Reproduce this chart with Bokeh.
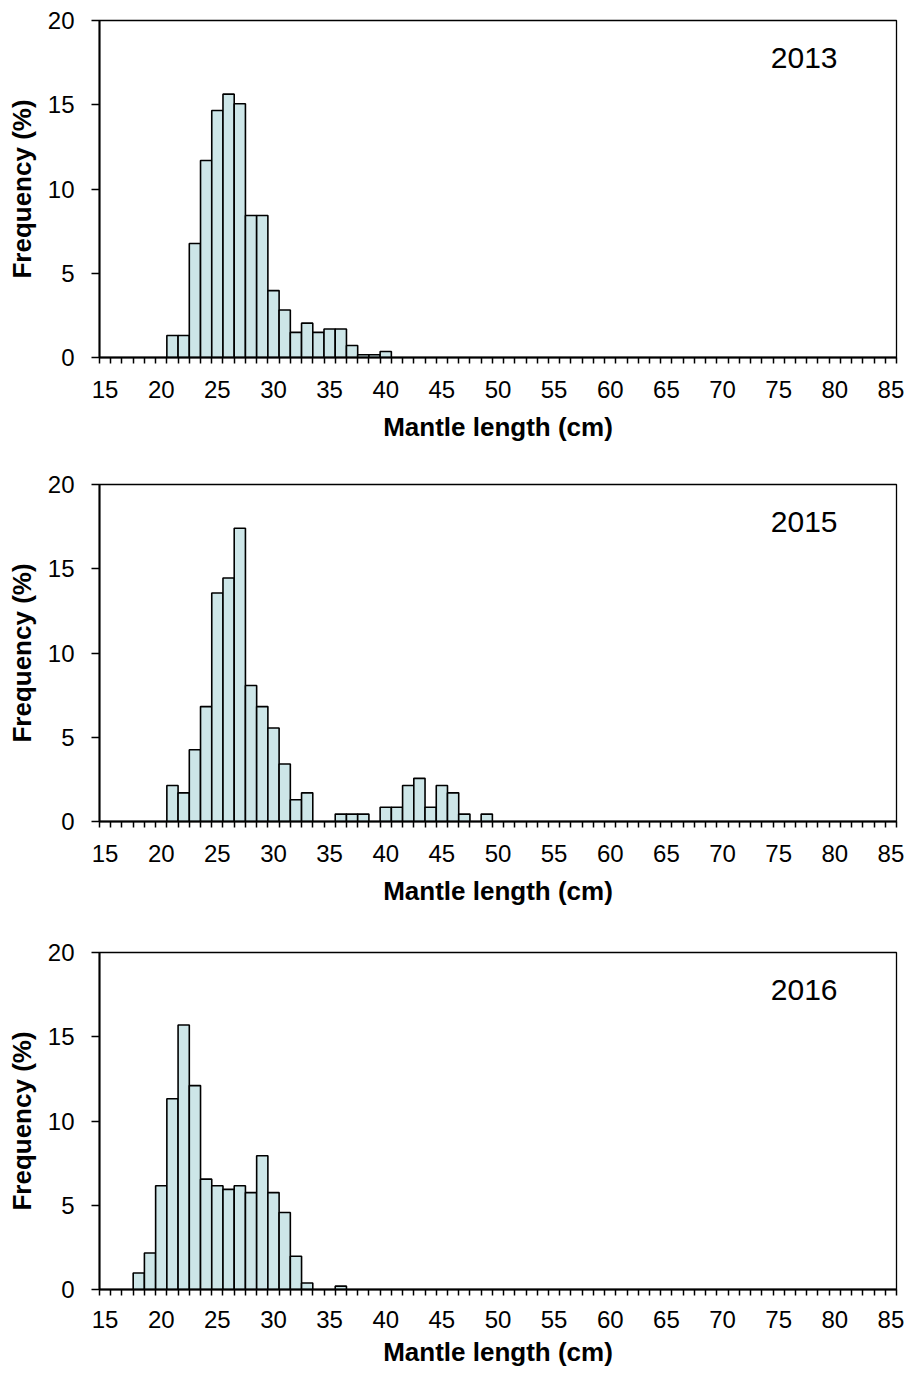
from bokeh.plotting import figure
from bokeh.layouts import column
from bokeh.models import FixedTicker, Label, Range1d
from bokeh.embed import file_html
from bokeh.resources import INLINE

# ---- data (mantle length classes in cm, frequency in %) ----
years = ["2013", "2015", "2016"]

length_2013 = [21, 22, 23, 24, 25, 26, 27, 28, 29, 30, 31, 32, 33, 34, 35, 36, 37, 38, 39, 40]
freq_2013 = [1.31, 1.31, 6.77, 11.69, 14.66, 15.63, 15.06, 8.43, 8.43, 3.97,
             2.82, 1.49, 2.04, 1.49, 1.69, 1.69, 0.71, 0.16, 0.16, 0.36]

length_2015 = [21, 22, 23, 24, 25, 26, 27, 28, 29, 30, 31, 32, 33, 34, 35,
               36, 37, 38, 39, 40, 41, 42, 43, 44, 45, 46, 47, 48, 49]
freq_2015 = [2.14, 1.70, 4.26, 6.82, 13.56, 14.45, 17.40, 8.07, 6.82, 5.55,
             3.41, 1.29, 1.70, 0.0, 0.0, 0.44, 0.44, 0.44, 0.0, 0.85,
             0.85, 2.14, 2.56, 0.85, 2.14, 1.70, 0.44, 0.0, 0.44]

length_2016 = [18, 19, 20, 21, 22, 23, 24, 25, 26, 27, 28, 29, 30, 31, 32, 33, 34, 35, 36]
freq_2016 = [0.98, 2.17, 6.16, 11.32, 15.70, 12.10, 6.55, 6.16, 5.94, 6.16,
             5.75, 7.94, 5.75, 4.57, 1.97, 0.39, 0.0, 0.0, 0.20]

x_min, x_max = 15, 85
x_tick_labels = list(range(15, 86, 5))
y_ticks = [0, 5, 10, 15, 20]

FONT = "Liberation Sans"
BAR_FILL = "#CDE6E8"

datasets = [(length_2013, freq_2013), (length_2015, freq_2015), (length_2016, freq_2016)]


def make_panel(year, lengths, freqs, height, top_border, bottom_border,
               tick_standoff, title_standoff):
    p = figure(width=904, height=height, output_backend="svg", toolbar_location=None,
               x_range=Range1d(x_min - 0.5, x_max + 0.5), y_range=Range1d(0, 20),
               min_border_left=99, min_border_right=8,
               min_border_top=top_border, min_border_bottom=bottom_border)
    p.background_fill_color = "white"
    p.border_fill_color = "white"
    p.outline_line_color = "black"
    p.outline_line_width = 1.3
    p.xgrid.visible = False
    p.ygrid.visible = False

    xs = [l for l, f in zip(lengths, freqs) if f > 0]
    ys = [f for f in freqs if f > 0]
    p.vbar(x=xs, top=ys, bottom=0, width=1.0, fill_color=BAR_FILL,
           line_color="black", line_width=1.6)

    xa = p.xaxis[0]
    xa.ticker = FixedTicker(ticks=x_tick_labels,
                            minor_ticks=[v - 0.5 for v in range(x_min, x_max + 2)])
    xa.major_tick_line_color = None
    xa.major_tick_out = 0
    xa.major_tick_in = 0
    xa.minor_tick_out = 6
    xa.minor_tick_in = 0
    xa.minor_tick_line_width = 1.5
    xa.minor_tick_line_color = "black"
    xa.axis_line_width = 2
    xa.axis_line_color = "black"
    xa.major_label_standoff = tick_standoff
    xa.major_label_text_font = FONT
    xa.major_label_text_font_size = "24px"
    xa.major_label_text_color = "black"
    xa.axis_label = "Mantle length (cm)"
    xa.axis_label_text_font = FONT
    xa.axis_label_text_font_size = "26px"
    xa.axis_label_text_font_style = "bold"
    xa.axis_label_text_color = "black"
    xa.axis_label_standoff = title_standoff

    ya = p.yaxis[0]
    ya.ticker = FixedTicker(ticks=y_ticks, minor_ticks=[])
    ya.major_tick_out = 8
    ya.major_tick_in = 0
    ya.major_tick_line_width = 1.5
    ya.major_tick_line_color = "black"
    ya.minor_tick_line_color = None
    ya.axis_line_width = 2
    ya.axis_line_color = "black"
    ya.major_label_standoff = 17
    ya.major_label_text_font = FONT
    ya.major_label_text_font_size = "24px"
    ya.major_label_text_color = "black"
    ya.axis_label = "Frequency (%)"
    ya.axis_label_text_font = FONT
    ya.axis_label_text_font_size = "26px"
    ya.axis_label_text_font_style = "bold"
    ya.axis_label_text_color = "black"
    ya.axis_label_standoff = 8

    p.add_layout(Label(x=74.3, y=17.75, text=year, text_font=FONT,
                       text_font_size="30px", text_color="black",
                       text_baseline="alphabetic"))
    return p


p1 = make_panel(years[0], *datasets[0], height=464, top_border=20, bottom_border=107,
                tick_standoff=17, title_standoff=11)
p2 = make_panel(years[1], *datasets[1], height=464, top_border=20, bottom_border=107,
                tick_standoff=17, title_standoff=11)
p3 = make_panel(years[2], *datasets[2], height=444, top_border=24, bottom_border=83,
                tick_standoff=15, title_standoff=6)

layout = column(p1, p2, p3, spacing=0)
open("out.html", "w").write(file_html(layout, INLINE))
